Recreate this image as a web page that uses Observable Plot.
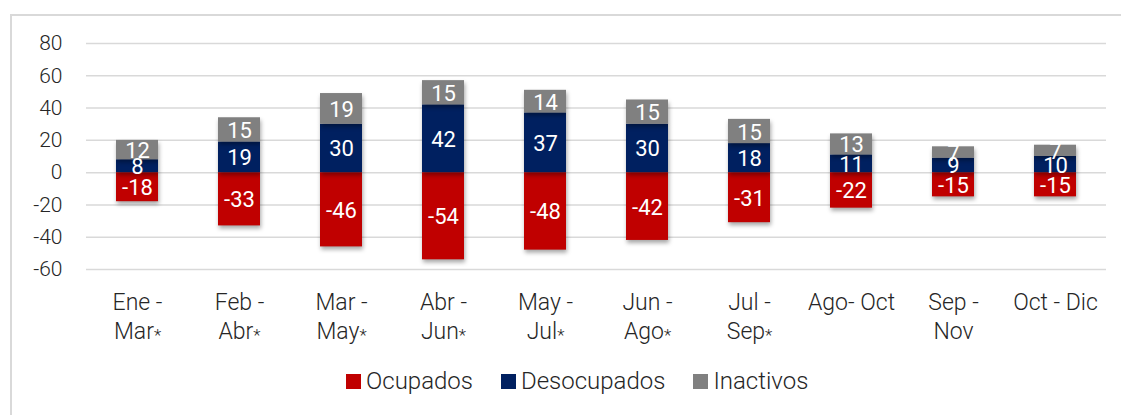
<!DOCTYPE html>
<html>
<head>
<meta charset="utf-8">
<script src="https://cdn.jsdelivr.net/npm/d3@7"></script>
<script src="https://cdn.jsdelivr.net/npm/@observablehq/plot@0.6"></script>
<style>
  html, body { margin: 0; padding: 0; background: #fff; }
  body { width: 1121px; height: 415px; position: relative; overflow: hidden; font-family: Roboto, "Noto Sans", sans-serif; }
  #frame { position: absolute; left: 10px; top: 14px; width: 1130px; height: 420px; border: 2px solid #d9d9d9; box-sizing: border-box; }
  #chart { position: absolute; left: 0; top: 0; }
  #legend { position: absolute; top: 366px; left: 346px; display: flex; align-items: center; font-size: 24px; font-weight: 300; color: #262626; line-height: 30px; }
  .item { display: flex; align-items: center; margin-right: 28px; }
  .sw { width: 15px; height: 15px; margin-right: 5px; }
</style>
</head>
<body>
<div id="frame"></div>
<div id="chart"></div>
<div id="legend"></div>
<script>
const categories = ["Ene -\nMar*", "Feb -\nAbr*", "Mar -\nMay*", "Abr -\nJun*", "May -\nJul*", "Jun -\nAgo*", "Jul -\nSep*", "Ago- Oct", "Sep -\nNov", "Oct - Dic"];
const seriesNames = ["Ocupados", "Desocupados", "Inactivos"];
const seriesColors = ["#C00000", "#002060", "#808080"];
const ocupados = [-18, -33, -46, -54, -48, -42, -31, -22, -15, -15];
const desocupados = [8, 19, 30, 42, 37, 30, 18, 11, 9, 10];
const inactivos = [12, 15, 19, 15, 14, 15, 15, 13, 7, 7];
const yTicks = [-60, -40, -20, 0, 20, 40, 60, 80];

const seriesValues = [ocupados, desocupados, inactivos];
const data = [];
seriesNames.forEach((s, si) => {
  categories.forEach((c, ci) => {
    data.push({cat: c, series: s, value: seriesValues[si][ci]});
  });
});

const plot = Plot.plot({
  width: 1121,
  height: 355,
  marginLeft: 86,
  marginRight: 15,
  marginTop: 43,
  marginBottom: 86,
  style: {fontFamily: "Roboto, 'Noto Sans', sans-serif", background: "transparent"},
  x: {domain: categories, paddingInner: 0.59, paddingOuter: 0.295},
  y: {domain: [-60, 80]},
  color: {domain: seriesNames, range: seriesColors},
  marks: [
    Plot.gridY(yTicks, {stroke: "#d9d9d9", strokeOpacity: 1, strokeWidth: 1.5}),
    Plot.axisY(yTicks, {tickSize: 0, tickPadding: 24, fontSize: 21, fontWeight: 300, fill: "#262626", tickFormat: d => String(d), label: null}),
    Plot.axisX({tickSize: 0, tickPadding: 20, fontSize: 23, fontWeight: 300, fill: "#262626", lineHeight: 1.25, label: null}),
    Plot.barY(data, Plot.stackY({x: "cat", y: "value", z: "series", fill: "series", order: seriesNames})),
    Plot.text(data, Plot.stackY({x: "cat", y: "value", z: "series", order: seriesNames, text: d => String(d.value), fill: "white", fontSize: 22, dy: 1}))
  ]
});

d3.select(plot).selectAll("g[aria-label='bar'] rect").style("filter", "drop-shadow(1px 3px 2px rgba(0,0,0,0.35))");
// shrink the asterisks in the x tick labels, as in the reference
d3.select(plot).selectAll("g[aria-label='x-axis tick label'] tspan, g[aria-label='x-axis tick label'] text").each(function() {
  const el = this;
  if (el.childElementCount === 0 && el.textContent.endsWith("*")) {
    const txt = el.textContent.slice(0, -1);
    el.textContent = txt;
    const star = document.createElementNS("http://www.w3.org/2000/svg", "tspan");
    star.textContent = "*";
    star.setAttribute("font-size", "17");
    star.setAttribute("dy", "2");
    el.appendChild(star);
  }
});
document.getElementById("chart").appendChild(plot);

const legend = document.getElementById("legend");
seriesNames.forEach((s, i) => {
  const it = document.createElement("div");
  it.className = "item";
  const sw = document.createElement("div");
  sw.className = "sw";
  sw.style.background = seriesColors[i];
  it.appendChild(sw);
  const t = document.createElement("span");
  t.textContent = s;
  it.appendChild(t);
  legend.appendChild(it);
});
</script>
</body>
</html>
